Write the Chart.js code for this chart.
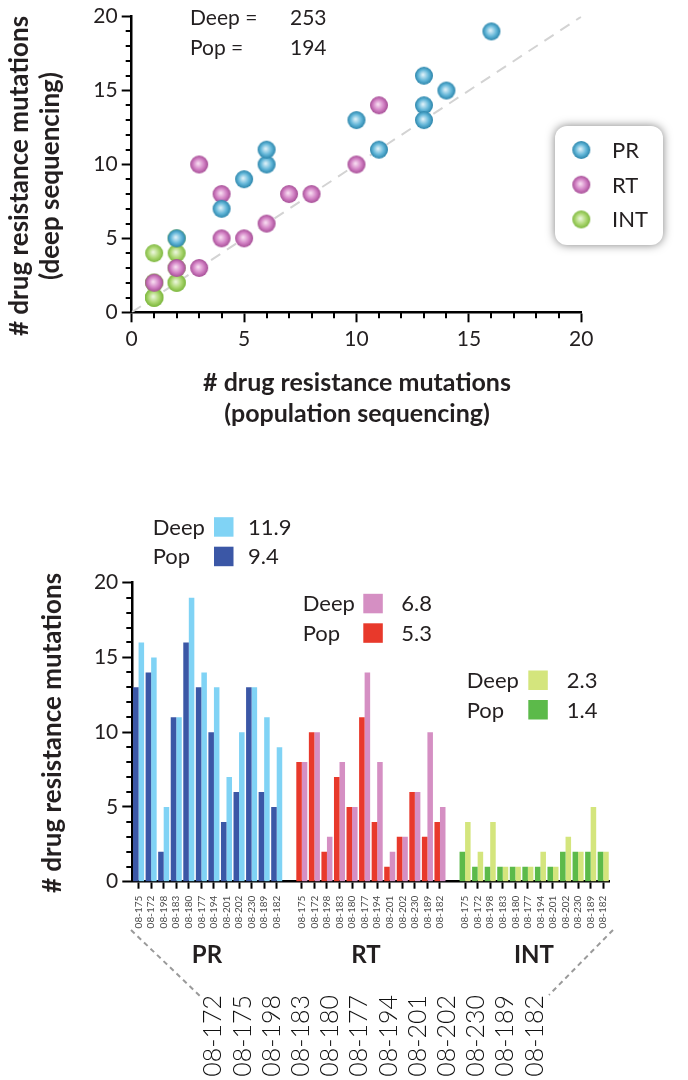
<!DOCTYPE html>
<html><head><meta charset="utf-8">
<script src="https://cdn.jsdelivr.net/npm/chart.js@4.4.1/dist/chart.umd.min.js"></script>
<style>
html,body{margin:0;padding:0;background:#fff;}
#w1{position:absolute;left:0;top:0;width:688px;height:440px;}
#w2{position:absolute;left:0;top:440px;width:688px;height:640px;}
</style></head><body>
<div id="w1"><canvas id="c1"></canvas></div>
<div id="w2"><canvas id="c2"></canvas></div>
<script>
// ---------- data ----------
const genes = ['PR', 'RT', 'INT'];
const samples = ['08-175','08-172','08-198','08-183','08-180','08-177','08-194','08-201','08-202','08-230','08-189','08-182'];
const sampleKey = ['08-172','08-175','08-198','08-183','08-180','08-177','08-194','08-201','08-202','08-230','08-189','08-182'];
const prPop   = [13,14,2,11,16,13,10,4,6,13,6,5];
const prDeep  = [16,15,5,11,19,14,13,7,10,13,11,9];
const rtPop   = [8,10,2,7,5,11,4,1,3,6,3,4];
const rtDeep  = [8,10,3,8,5,14,8,2,3,6,10,5];
const intPop  = [2,1,1,1,1,1,1,1,2,2,2,2];
const intDeep = [4,2,4,1,1,1,2,1,3,2,5,2];
const deepMeans = ['11.9','6.8','2.3'];
const popMeans  = ['9.4','5.3','1.4'];
const totalNames  = ['Deep =', 'Pop ='];
const totalValues = ['253', '194'];
const axisTicks = [0,5,10,15,20];
const diagonal = [0, 20];

// ---------- styles ----------
const FONT = 'Lato, "Open Sans", "DejaVu Sans", sans-serif';
const TXT = '#231f20';
const popColors  = ['#3b57a6','#e8392b','#5cba4a'];
const deepColors = ['#80d3f5','#d58fc3','#d4e57d'];
const sphereCols = [
  ['#e6f5fb','#62b6d8','#2a84aa'],
  ['#fae3f4','#d281c4','#a64e96'],
  ['#f0f9e3','#acd772','#7db73e']
];
Chart.defaults.font.family = FONT;
Chart.defaults.color = TXT;
Chart.defaults.animation = false;

function sphere(r, c) {
  const cv = document.createElement('canvas');
  const s = 2 * r + 2; cv.width = cv.height = s;
  const g = cv.getContext('2d');
  const gr = g.createRadialGradient(s/2 - r*0.12, s/2 - r*0.12, 0, s/2, s/2, r);
  gr.addColorStop(0, c[0]); gr.addColorStop(0.6, c[1]); gr.addColorStop(1, c[2]);
  g.fillStyle = gr; g.beginPath(); g.arc(s/2, s/2, r, 0, Math.PI*2); g.fill();
  return cv;
}
const spheres = sphereCols.map(c => sphere(9, c));

function drawMinorTicks(chart, id, len) {
  const s = chart.scales[id], ctx = chart.ctx, ca = chart.chartArea;
  ctx.save(); ctx.strokeStyle = '#000'; ctx.lineWidth = 2;
  s.ticks.forEach(t => {
    if (axisTicks.includes(t.value)) return;
    const p = Math.round(s.getPixelForValue(t.value));
    ctx.beginPath();
    if (s.isHorizontal()) { ctx.moveTo(p, ca.bottom); ctx.lineTo(p, ca.bottom + len); }
    else { ctx.moveTo(ca.left, p); ctx.lineTo(ca.left - len, p); }
    ctx.stroke();
  });
  ctx.restore();
}
function rotText(ctx, txt, x, y, font, align, color) {
  ctx.save(); ctx.translate(x, y); ctx.rotate(-Math.PI/2);
  ctx.font = font; ctx.textAlign = align || 'center'; ctx.textBaseline = 'middle';
  ctx.fillStyle = color || TXT; ctx.fillText(txt, 0, 0); ctx.restore();
}
function linAxis(w, h) {
  const o = {
    type: 'linear', min: 0, max: 20,
    ticks: { stepSize: 1, autoSkip: false, maxRotation: 0, minRotation: 0, font: { size: 21 }, color: TXT, padding: 4,
      callback: v => axisTicks.includes(v) ? String(v) : '' },
    grid: { drawOnChartArea: false, drawTicks: true, tickLength: 10, tickWidth: 2,
      tickColor: c => (c.tick && axisTicks.includes(c.tick.value)) ? '#000' : 'rgba(0,0,0,0)' },
    border: { display: true, color: '#000', width: 2.5 }
  };
  if (w) o.afterFit = s => { s.width = w; };
  if (h) o.afterFit = s => { s.height = h; };
  return o;
}

// ---------- scatter ----------
const popByGene = [prPop, rtPop, intPop];
const deepByGene = [prDeep, rtDeep, intDeep];
const scatterSets = genes.map((g, gi) => ({
  type: 'scatter', label: g, order: gi,
  data: popByGene[gi].map((p, i) => ({ x: p, y: deepByGene[gi][i] })),
  pointStyle: spheres[gi], pointRadius: 9
}));
scatterSets.push({
  type: 'line', label: 'diag', order: 10,
  data: diagonal.map(v => ({ x: v, y: v })),
  borderColor: '#d3d3d3', borderWidth: 2, borderDash: [11, 8], pointRadius: 0, fill: false
});

const scatterDecor = {
  id: 'scatterDecor',
  afterDraw(chart) {
    const ctx = chart.ctx;
    drawMinorTicks(chart, 'x', 6);
    drawMinorTicks(chart, 'y', 6);
    rotText(ctx, '# drug resistance mutations', 20, 176, 'bold 26px ' + FONT);
    rotText(ctx, '(deep sequencing)', 51, 176, 'bold 26px ' + FONT);
    ctx.save();
    ctx.fillStyle = TXT; ctx.textAlign = 'center'; ctx.textBaseline = 'middle';
    ctx.font = 'bold 25px ' + FONT;
    ctx.fillText('# drug resistance mutations', 357, 383);
    ctx.fillText('(population sequencing)', 357, 414);
    ctx.font = '21px ' + FONT; ctx.textAlign = 'left';
    totalNames.forEach((n, i) => {
      ctx.fillText(n, 190, 18 + i * 30);
      ctx.fillText(totalValues[i], 290, 18 + i * 30);
    });
    // legend box
    const bx = 555, by = 126, bw = 108, bh = 119, r = 12;
    ctx.save();
    ctx.shadowColor = 'rgba(0,0,0,0.5)'; ctx.shadowBlur = 10;
    ctx.fillStyle = '#fff';
    ctx.beginPath(); ctx.roundRect(bx, by, bw, bh, r); ctx.fill();
    ctx.restore();
    ctx.font = '22px ' + FONT; ctx.textAlign = 'left'; ctx.fillStyle = TXT;
    genes.forEach((g, i) => {
      const cy = 150 + i * 34.7;
      ctx.drawImage(spheres[i], 581.3 - 10, cy - 10);
      ctx.fillText(g, 612, cy + 1);
    });
    ctx.restore();
  }
};

new Chart(document.getElementById('c1'), {
  data: { datasets: scatterSets },
  options: {
    responsive: true, maintainAspectRatio: false,
    layout: { padding: { top: 13.3, right: 106.7, left: 0, bottom: 0 } },
    plugins: { legend: { display: false }, tooltip: { enabled: false } },
    scales: { x: linAxis(null, 127.7), y: linAxis(131.7, null) }
  },
  plugins: [scatterDecor]
});

// ---------- bars ----------
const barLabels = [...samples, '', ...samples, '', ...samples];
const popAll  = [...prPop, null, ...rtPop, null, ...intPop];
const deepAll = [...prDeep, null, ...rtDeep, null, ...intDeep];
const geneOf = i => i < 12 ? 0 : (i < 25 ? 1 : 2);

const barDecor = {
  id: 'barDecor',
  afterDraw(chart) {
    const ctx = chart.ctx;
    drawMinorTicks(chart, 'y', 6);
    rotText(ctx, '# drug resistance mutations', 53, 293, 'bold 26px ' + FONT);
    ctx.save();
    // legends
    const pos = [
      { x: 152.7, sq: 214, val: 248, y: 87.7 },
      { x: 302.7, sq: 363.3, val: 401.3, y: 164.3 },
      { x: 466.7, sq: 528.3, val: 566.7, y: 241 }
    ];
    ctx.font = '22px ' + FONT; ctx.textBaseline = 'middle'; ctx.textAlign = 'left';
    pos.forEach((p, gi) => {
      [['Deep', deepColors[gi], deepMeans[gi]], ['Pop', popColors[gi], popMeans[gi]]].forEach((row, k) => {
        const y = p.y + k * 29.5;
        ctx.fillStyle = TXT; ctx.fillText(row[0], p.x, y);
        ctx.fillStyle = row[1]; ctx.fillRect(p.sq, y - 10.5, 19.5, 19.5);
        ctx.fillStyle = TXT; ctx.fillText(row[2], p.val, y);
      });
    });
    // gene labels
    ctx.font = 'bold 24px ' + FONT; ctx.textAlign = 'center'; ctx.fillStyle = TXT;
    [207, 366, 534].forEach((x, i) => ctx.fillText(genes[i], x, 515));
    // dashed guides
    ctx.strokeStyle = '#9a9a9a'; ctx.lineWidth = 2; ctx.setLineDash([5, 4]);
    ctx.beginPath(); ctx.moveTo(131, 490); ctx.lineTo(200, 556); ctx.stroke();
    ctx.beginPath(); ctx.moveTo(613, 490); ctx.lineTo(549, 555); ctx.stroke();
    ctx.setLineDash([]);
    ctx.restore();
    // big sample key
    sampleKey.forEach((s, i) => rotText(ctx, s, 213.3 + i * 29.2, 555, '300 25px ' + FONT, 'right', '#111'));
  }
};

new Chart(document.getElementById('c2'), {
  type: 'bar',
  data: {
    labels: barLabels,
    datasets: [
      { label: 'Pop', data: popAll, backgroundColor: c => popColors[geneOf(c.dataIndex)] },
      { label: 'Deep', data: deepAll, backgroundColor: c => deepColors[geneOf(c.dataIndex)] }
    ]
  },
  options: {
    responsive: true, maintainAspectRatio: false,
    layout: { padding: { top: 142.7, right: 78.5, left: 0, bottom: 0 } },
    plugins: { legend: { display: false }, tooltip: { enabled: false } },
    datasets: { bar: { categoryPercentage: 0.88, barPercentage: 1.0, borderWidth: 0 } },
    scales: {
      x: {
        type: 'category',
        afterFit: s => { s.height = 198.3; },
        ticks: { autoSkip: false, minRotation: 90, maxRotation: 90, font: { size: 10 }, color: '#4a4a4a', padding: 7 },
        grid: { offset: false, drawOnChartArea: false, drawTicks: true, tickLength: 7, tickWidth: 2,
          tickColor: c => barLabels[c.index] ? '#000' : 'rgba(0,0,0,0)' },
        border: { display: true, color: '#000', width: 2.5 }
      },
      y: linAxis(132.3, null)
    }
  },
  plugins: [barDecor]
});
</script>
</body></html>
